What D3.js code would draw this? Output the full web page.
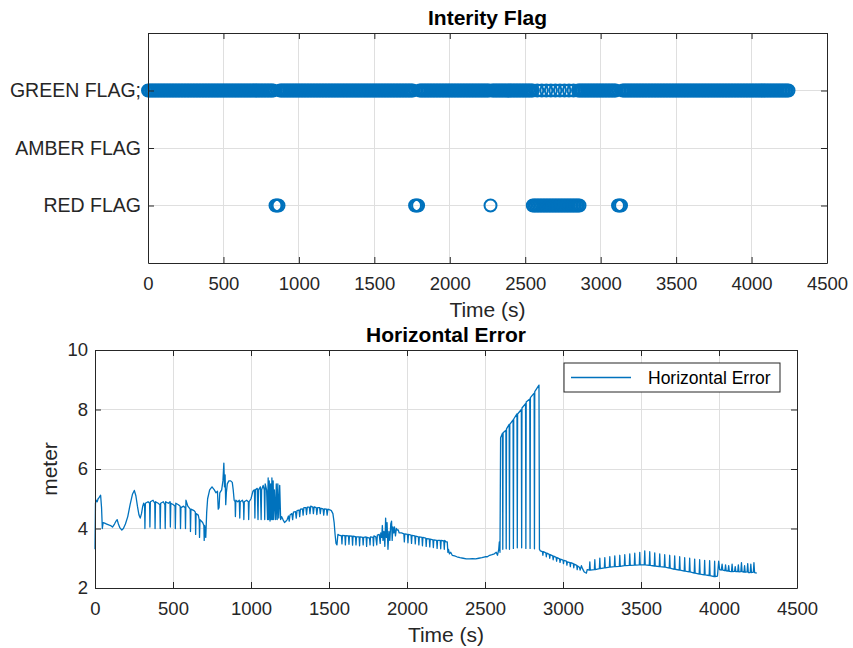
<!DOCTYPE html>
<html>
<head>
<meta charset="utf-8">
<script src="https://cdn.jsdelivr.net/npm/d3@7"></script>
<style>
  html, body { margin: 0; padding: 0; background: #ffffff; }
  svg { display: block; }
  text { font-family: "Liberation Sans", Arial, Helvetica, sans-serif; }
</style>
</head>
<body>
<svg id="chart" width="853" height="648"></svg>
<script>
// ---------------- data ----------------
const timeTicks = [0, 500, 1000, 1500, 2000, 2500, 3000, 3500, 4000, 4500];
const flagLevels = [1, 2, 3];
const flagNames = ["RED FLAG", "AMBER FLAG", "GREEN FLAG;"];
const errorTicks = [2, 4, 6, 8, 10];

// integrity flag log, sampled every 10 s; runs are [first, last] sample times
const samplePeriod = 10;
const greenRuns = [[0, 835], [875, 1760], [1800, 2260], [2280, 2550], [2850, 3105], [3145, 4250]];
const greenSingles = [2580, 2610, 2640, 2670, 2700, 2730, 2760, 2790, 2820];
const amberRuns = [];
const redRuns = [[845, 865], [1770, 1790], [2270, 2270], [2550, 2860], [3115, 3135]];

// horizontal position error [time (s), error (m)]
const horizontalError = [
  [0,3.3],[3,4.85],[8,4.95],[14,4.9],[20,5.0],[27,5.05],[36,5.12],[42,4.7],[47,4.0],[52,4.2],
  [62,4.18],[75,4.15],[88,4.12],[100,4.1],[112,4.05],[125,4.15],[135,4.25],[142,4.3],[150,4.15],
  [160,4.02],[172,3.95],[182,4.0],[195,4.15],[210,4.4],[225,4.8],[240,5.15],[252,5.28],[262,5.1],
  [272,4.75],[282,4.45],[290,4.35],[298,4.5],[306,4.75],[312,4.85],
  [318,4.75],[320,4.0],[323,4.85],[340,4.9],[350,4.85],[352,4.05],[355,4.9],[372,4.95],[383,4.85],
  [385,4.0],[388,4.9],[405,4.85],[416,4.8],[418,4.0],[421,4.85],[438,4.9],[448,4.8],[450,4.0],
  [453,4.9],[470,4.85],[481,4.9],[483,4.05],[486,4.85],[503,4.8],[513,4.75],[515,4.0],[518,4.85],
  [535,4.8],[546,4.75],[548,4.0],[551,4.7],[568,4.75],[578,4.7],[580,4.0],[583,4.95],[595,4.75],
  [610,4.65],[612,3.9],[615,4.65],[635,4.6],[643,4.55],[645,3.8],[648,4.5],[662,4.45],[668,4.3],
  [670,3.7],[673,4.3],[690,4.2],[698,4.1],[700,3.6],[703,4.1],[710,3.7],[716,4.55],
  [722,5.0],[735,5.3],[750,5.4],[765,5.3],[775,5.2],[785,5.25],[790,4.65],[795,4.7],[800,5.2],
  [812,5.3],[820,5.6],[826,6.2],[830,5.4],[834,5.8],[838,4.8],[842,5.2],[848,5.5],[858,5.6],
  [870,5.6],[880,5.55],[886,5.3],[892,4.95],[898,4.9],[900,4.4],[903,4.95],[915,4.9],[925,4.95],
  [928,4.35],[931,4.9],[945,4.95],[952,4.85],[954,4.3],[957,4.9],[972,4.95],[983,4.9],[985,4.3],
  [988,4.9],[1000,5.0],[1012,5.25],[1022,5.3],[1025,4.35],[1028,5.3],[1040,5.35],[1045,4.3],
  [1048,5.3],[1060,5.4],[1065,4.3],[1068,5.3],[1078,5.45],[1085,5.3],[1088,4.3],[1091,5.5],
  [1100,5.3],[1106,4.3],[1110,5.7],[1113,4.3],[1117,5.6],[1122,4.25],[1126,5.5],[1130,4.3],
  [1134,5.7],[1138,4.3],[1142,5.6],[1146,4.3],[1150,5.3],[1158,4.3],[1162,5.5],[1168,4.3],
  [1172,5.5],[1178,4.35],[1184,5.45],[1190,4.3],[1196,4.4],[1205,4.3],[1215,4.2],[1225,4.25],
  [1232,4.3],[1240,4.42],[1245,4.25],[1250,4.45],[1262,4.5],[1267,4.3],[1272,4.55],[1285,4.57],
  [1290,4.35],[1295,4.6],[1308,4.62],[1312,4.4],[1317,4.65],[1330,4.66],[1334,4.45],[1339,4.7],
  [1352,4.7],[1356,4.47],[1361,4.72],[1374,4.72],[1378,4.5],[1383,4.75],[1396,4.72],[1400,4.5],
  [1405,4.73],[1418,4.7],[1422,4.47],[1427,4.7],[1440,4.7],[1444,4.5],[1449,4.68],[1462,4.66],
  [1466,4.45],[1471,4.66],[1484,4.65],[1488,4.45],[1493,4.65],[1505,4.63],[1515,4.6],[1525,4.5],
  [1533,4.2],[1539,3.8],[1545,3.5],[1551,3.45],[1557,3.8],
  [1565,3.78],[1580,3.75],[1583,3.48],[1586,3.77],[1602,3.76],[1605,3.45],[1608,3.76],[1625,3.75],
  [1628,3.47],[1631,3.75],[1648,3.74],[1651,3.44],[1654,3.74],[1670,3.73],[1673,3.45],[1676,3.72],
  [1693,3.72],[1696,3.42],[1699,3.72],[1716,3.7],[1719,3.45],[1722,3.7],[1738,3.72],[1741,3.4],
  [1744,3.7],[1760,3.68],[1763,3.45],[1766,3.72],[1782,3.7],[1785,3.42],[1788,3.75],[1800,3.72],
  [1806,3.45],[1810,3.78],[1822,3.8],[1828,3.5],[1832,3.85],
  [1838,3.7],[1842,4.1],[1846,3.6],[1852,3.9],[1858,3.4],[1863,4.35],[1868,3.7],[1872,4.2],
  [1878,3.3],[1884,3.9],[1890,3.6],[1896,4.15],[1901,4.25],[1905,3.6],[1910,4.05],[1915,3.85],
  [1920,4.05],[1926,3.75],[1932,4.0],[1938,3.95],[1944,3.95],[1950,3.85],[1958,3.85],
  [1965,3.85],[1980,3.82],[1983,3.55],[1986,3.82],[2003,3.8],[2006,3.52],[2009,3.8],[2026,3.78],
  [2029,3.5],[2032,3.77],[2050,3.75],[2053,3.48],[2056,3.74],[2073,3.72],[2076,3.45],[2079,3.72],
  [2096,3.7],[2099,3.42],[2102,3.7],[2120,3.68],[2123,3.4],[2126,3.66],[2143,3.65],[2146,3.38],
  [2149,3.64],[2166,3.62],[2169,3.36],[2172,3.62],[2190,3.6],[2193,3.33],[2196,3.6],[2213,3.6],
  [2216,3.32],[2219,3.6],[2236,3.58],[2239,3.3],[2242,3.6],[2250,3.55],
  [2258,3.55],[2262,3.2],[2266,3.3],[2272,3.15],[2280,3.2],[2290,3.1],[2305,3.08],[2320,3.05],
  [2340,3.02],[2360,3.0],[2380,2.98],[2400,2.98],[2420,2.99],[2440,2.98],[2460,3.0],[2480,3.02],
  [2500,3.05],[2515,3.05],[2530,3.1],[2545,3.12],[2560,3.15],[2572,3.2],[2580,3.1],[2588,3.3],
  [2592,3.55],[2596,3.2],
  [2600,7.05],[2612,7.2],[2614,3.3],[2616,7.22],[2634,7.3],[2636,3.32],[2638,7.35],[2655,7.5],
  [2657,3.3],[2659,7.5],[2680,7.65],[2682,3.33],[2684,7.68],[2705,7.85],[2707,3.35],[2709,7.85],
  [2733,8.0],[2735,3.35],[2737,8.05],[2760,8.2],[2762,3.33],[2764,8.25],[2787,8.35],[2789,3.33],
  [2791,8.4],[2815,8.55],[2817,3.32],[2819,8.6],[2846,8.82],[2849,3.3],
  [2855,3.25],[2868,3.22],[2871,3.1],[2874,3.22],[2890,3.18],[2893,3.05],[2896,3.17],[2912,3.13],
  [2915,3.0],[2918,3.12],[2934,3.08],[2937,2.95],[2940,3.07],[2956,3.03],[2959,2.9],[2962,3.02],
  [2978,2.98],[2981,2.86],[2984,2.97],[3000,2.94],[3003,2.82],[3006,2.93],[3022,2.9],[3025,2.77],
  [3028,2.88],[3044,2.85],[3047,2.72],[3050,2.85],[3066,2.82],[3069,2.68],[3072,2.8],[3088,2.76],
  [3091,2.62],[3094,2.74],[3105,2.7],[3110,2.6],[3118,2.75],[3125,2.65],[3135,2.55],[3142,2.52],
  [3150,2.5],[3155,2.62],
  [3169,2.6],[3172,2.88],[3175,2.6],[3201,2.62],[3204,2.95],[3207,2.62],[3233,2.65],[3236,3.0],
  [3239,2.65],[3265,2.68],[3268,3.02],[3271,2.68],[3297,2.7],[3300,3.05],[3303,2.7],[3329,2.72],
  [3332,3.08],[3335,2.72],[3361,2.73],[3364,3.1],[3367,2.73],[3393,2.75],[3396,3.12],[3399,2.75],
  [3425,2.76],[3428,3.15],[3431,2.76],[3457,2.77],[3460,3.17],[3463,2.77],[3489,2.78],[3492,3.2],
  [3495,2.78],[3521,2.78],[3524,3.25],[3527,2.78],[3553,2.76],[3556,3.22],[3559,2.76],[3585,2.74],
  [3588,3.18],[3591,2.74],[3617,2.72],[3620,3.15],[3623,2.72],[3649,2.7],[3652,3.12],[3655,2.7],
  [3681,2.67],[3684,3.1],[3687,2.67],[3713,2.63],[3716,3.08],[3719,2.63],[3745,2.6],[3748,3.05],
  [3751,2.6],[3777,2.57],[3780,3.02],[3783,2.57],[3809,2.54],[3812,3.0],[3815,2.54],[3841,2.5],
  [3844,2.97],[3847,2.5],[3873,2.47],[3876,2.95],[3879,2.47],[3905,2.44],[3908,2.93],[3911,2.44],
  [3937,2.42],[3940,2.92],[3943,2.42],[3969,2.38],[3972,2.9],[3975,2.38],
  [3990,2.4],[3998,2.9],[4004,2.62],[4015,2.6],[4020,2.8],[4024,2.6],[4038,2.58],[4042,2.78],
  [4046,2.58],[4058,2.57],[4062,2.75],[4066,2.56],[4080,2.55],[4084,2.8],[4088,2.55],[4100,2.56],
  [4104,2.72],[4108,2.55],[4120,2.55],[4124,2.78],[4128,2.54],[4140,2.55],[4144,2.85],[4148,2.55],
  [4160,2.53],[4164,2.75],[4168,2.53],[4180,2.54],[4184,2.82],[4188,2.52],[4200,2.52],[4204,2.8],
  [4208,2.52],[4220,2.53],[4224,2.85],[4228,2.52],[4242,2.5]
];

// ---------------- styling ----------------
const BLUE = "#0072BD";
const AXIS = "#262626";
const GRID = "#dfdfdf";
const TICK_FONT = 18.5;
const FLAG_FONT = 19.5;
const LABEL_FONT = 21;
const TICK_LEN = 6;

const svg = d3.select("#chart");

// expand [first,last] runs into sample times
function expandRuns(runs) {
  const out = [];
  runs.forEach(([a, b]) => { for (let t = a; t <= b; t += samplePeriod) out.push(t); });
  return out;
}

function drawGrid(g, x, y, w, h, yTicks) {
  g.append("g").selectAll("line").data(timeTicks.slice(1, -1)).join("line")
    .attr("x1", d => x(d)).attr("x2", d => x(d)).attr("y1", 0).attr("y2", h)
    .attr("stroke", GRID).attr("stroke-width", 1).attr("shape-rendering", "crispEdges");
  g.append("g").selectAll("line").data(yTicks).join("line")
    .attr("x1", 0).attr("x2", w).attr("y1", d => y(d)).attr("y2", d => y(d))
    .attr("stroke", GRID).attr("stroke-width", 1).attr("shape-rendering", "crispEdges");
}

function drawAxes(g, x, y, w, h, yTicks, yFormat, yFont) {
  const xb = d3.axisBottom(x).tickValues(timeTicks).tickSizeInner(-TICK_LEN).tickSizeOuter(0).tickPadding(14).tickFormat(d3.format("d"));
  const xt = d3.axisTop(x).tickValues(timeTicks).tickSizeInner(-TICK_LEN).tickSizeOuter(0).tickFormat("");
  const yl = d3.axisLeft(y).tickValues(yTicks).tickSizeInner(-TICK_LEN).tickSizeOuter(0).tickPadding(7).tickFormat(yFormat);
  const yr = d3.axisRight(y).tickValues(yTicks).tickSizeInner(-TICK_LEN).tickSizeOuter(0).tickFormat("");
  const style = size => sel => {
    sel.select(".domain").attr("stroke", AXIS).attr("stroke-width", 1);
    sel.selectAll(".tick line").attr("stroke", AXIS).attr("stroke-width", 1);
    sel.selectAll(".tick text").attr("fill", AXIS).style("font-size", size + "px")
      .style("font-family", '"Liberation Sans", Arial, Helvetica, sans-serif');
  };
  g.append("g").attr("transform", `translate(0,${h})`).call(xb).call(style(TICK_FONT));
  g.append("g").call(xt).call(style(TICK_FONT));
  g.append("g").call(yl).call(style(yFont));
  g.append("g").attr("transform", `translate(${w},0)`).call(yr).call(style(TICK_FONT));
}

// ---------------- integrity flag panel ----------------
{
  const L = 148, R = 827, T = 33, B = 263;
  const w = R - L, h = B - T;
  const x = d3.scaleLinear().domain([0, 4500]).range([0, w]);
  const y = d3.scaleLinear().domain([0, 4]).range([h, 0]);
  const g = svg.append("g").attr("transform", `translate(${L},${T})`);

  drawGrid(g, x, y, w, h, flagLevels);

  const points = [];
  expandRuns(greenRuns).forEach(t => points.push({ t, level: 3 }));
  greenSingles.forEach(t => points.push({ t, level: 3 }));
  expandRuns(amberRuns).forEach(t => points.push({ t, level: 2 }));
  expandRuns(redRuns).forEach(t => points.push({ t, level: 1 }));

  g.append("g").selectAll("circle").data(points).join("circle")
    .attr("cx", d => x(d.t)).attr("cy", d => y(d.level)).attr("r", 6)
    .attr("fill", "none").attr("stroke", BLUE).attr("stroke-width", 2);

  drawAxes(g, x, y, w, h, flagLevels, d => flagNames[flagLevels.indexOf(d)], FLAG_FONT);

  svg.append("text").attr("x", L + w / 2).attr("y", 25).attr("text-anchor", "middle")
    .style("font-size", LABEL_FONT + "px").style("font-weight", "bold").attr("fill", "#000")
    .text("Interity Flag");
  svg.append("text").attr("x", L + w / 2).attr("y", 317).attr("text-anchor", "middle")
    .style("font-size", LABEL_FONT + "px").attr("fill", AXIS).text("Time (s)");
}

// ---------------- horizontal error panel ----------------
{
  const L = 95, R = 797, T = 350, B = 588;
  const w = R - L, h = B - T;
  const x = d3.scaleLinear().domain([0, 4500]).range([0, w]);
  const y = d3.scaleLinear().domain([2, 10]).range([h, 0]);
  const g = svg.append("g").attr("transform", `translate(${L},${T})`);

  drawGrid(g, x, y, w, h, errorTicks.slice(1, -1));

  const line = d3.line().x(d => x(d[0])).y(d => y(d[1]));
  g.append("path").datum(horizontalError).attr("d", line)
    .attr("fill", "none").attr("stroke", BLUE).attr("stroke-width", 1.3).attr("stroke-linejoin", "round");

  drawAxes(g, x, y, w, h, errorTicks, d3.format("d"), TICK_FONT);

  // legend
  const lg = svg.append("g").attr("transform", "translate(564,363)");
  lg.append("rect").attr("width", 216).attr("height", 29).attr("fill", "#fff")
    .attr("stroke", AXIS).attr("stroke-width", 1);
  lg.append("line").attr("x1", 7).attr("x2", 67).attr("y1", 14.5).attr("y2", 14.5)
    .attr("stroke", BLUE).attr("stroke-width", 1.3);
  lg.append("text").attr("x", 84).attr("y", 20.5).style("font-size", "17.5px").attr("fill", "#000")
    .text("Horizontal Error");

  svg.append("text").attr("x", L + w / 2).attr("y", 342).attr("text-anchor", "middle")
    .style("font-size", LABEL_FONT + "px").style("font-weight", "bold").attr("fill", "#000")
    .text("Horizontal Error");
  svg.append("text").attr("x", L + w / 2).attr("y", 642).attr("text-anchor", "middle")
    .style("font-size", LABEL_FONT + "px").attr("fill", AXIS).text("Time (s)");
  svg.append("text").attr("transform", `translate(57,${T + h / 2}) rotate(-90)`).attr("text-anchor", "middle")
    .style("font-size", LABEL_FONT + "px").attr("fill", AXIS).text("meter");
}
</script>
</body>
</html>
